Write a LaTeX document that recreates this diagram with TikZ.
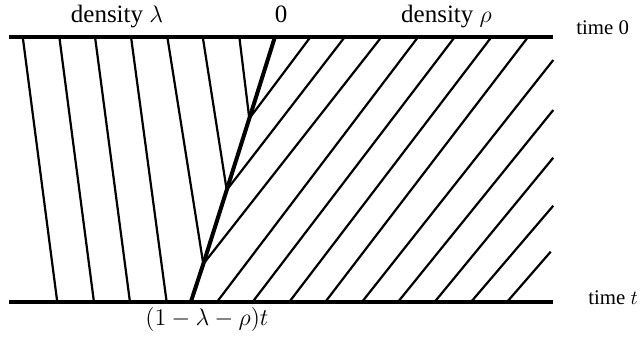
\documentclass[tikz,border=0pt]{standalone}
\usepackage[no-math]{fontspec}
\setmainfont{Liberation Serif}
\begin{document}
\begin{tikzpicture}[x=0.5pt,y=-0.5pt,
  thinl/.style={line width=1.1pt},
  thickl/.style={line width=2pt},
  shockl/.style={line width=2pt, line join=round},
  biglabel/.style={font=\fontsize{12.5}{15}\selectfont, inner sep=0pt, anchor=base},
  smalllabel/.style={font=\fontsize{10.4}{12.5}\selectfont, inner sep=0pt, anchor=base west}]
\useasboundingbox (0,0) rectangle (640,337);
% time axes
\coordinate (TL) at (9.3,36.7);  \coordinate (TR) at (553.3,36.7);
\coordinate (BL) at (9.3,302.3); \coordinate (BR) at (553.3,302.3);
\draw[thickl] (TL) -- (TR);
\draw[thickl] (BL) -- (BR);
% shock kinks
\coordinate (S0) at (275,36.7);
\coordinate (S1) at (249.3,118.5);
\coordinate (S2) at (226.7,190);
\coordinate (S3) at (203.3,264);
\coordinate (S4) at (190.7,302.3);
% lambda lines to bottom
\foreach \a/\b in {22.7/57.3, 59.3/94, 95/130, 131/166.7}
  \draw[thinl] (\a,36.7) -- (\b,302.3);
% lambda lines ending on shock
\draw[thinl] (167.3,36.7) -- (S3);
\draw[thinl] (202.7,36.7) -- (S2);
\draw[thinl] (239.3,36.7) -- (S1);
% rho lines ending on shock
\draw[thinl] (310.7,36.7) -- (S1);
\draw[thinl] (345,36.7) -- (S2);
\draw[thinl] (381.7,36.7) -- (S3);
% rho lines to bottom
\foreach \a/\b in {418.3/216.7, 455/252.3, 491.7/289, 528.3/325}
  \draw[thinl] (\a,36.7) -- (\b,302.3);
% rho lines from right edge
\foreach \y/\b in {60/361.7, 110/397.7, 157.7/434.3, 205.7/470.7}
  \draw[thinl] (553.3,\y) -- (\b,302.3);
\draw[thinl] (550.7,251.7) -- (506.7,302.3);
% shock
\draw[shockl] (S0) -- (S1) -- (S2) -- (S3) -- (S4);
% labels
\node[biglabel] (dl) at (117,22.7) {density $\lambda$};
\node[biglabel] (zero) at (281,22.7) {0};
\node[biglabel] (dr) at (446.5,22.5) {density $\rho$};
\node[smalllabel] (t0) at (576,34.5) {time 0};
\node[smalllabel] (tt) at (588,304) {time $t$};
\node[biglabel, anchor=base west] (pos) at (145,325.5) {$(1-\lambda-\rho)t$};
\end{tikzpicture}
\end{document}
